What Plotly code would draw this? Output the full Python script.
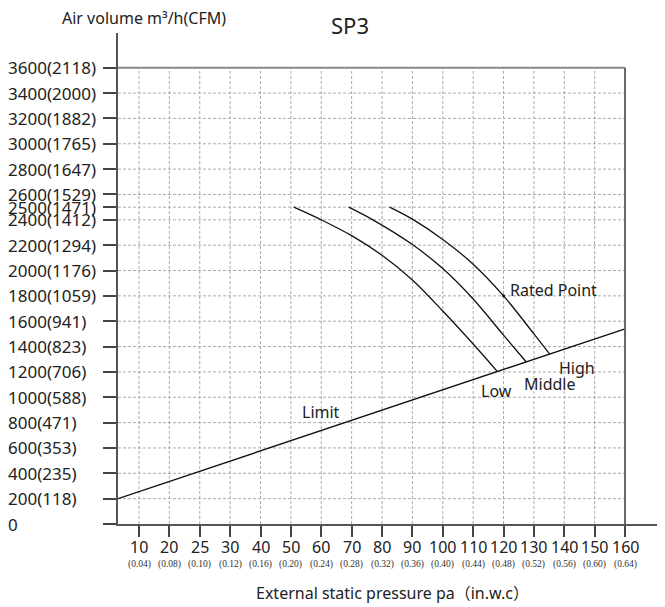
import numpy as np
import plotly.graph_objects as go

# ---- data ----
pressure_ticks = [10, 20, 25, 30, 40, 50, 60, 70, 80, 90, 100, 110, 120, 130, 140, 150, 160]
pressure_inwc = ["(0.04)", "(0.08)", "(0.10)", "(0.12)", "(0.16)", "(0.20)", "(0.24)", "(0.28)",
                 "(0.32)", "(0.36)", "(0.40)", "(0.44)", "(0.48)", "(0.52)", "(0.56)", "(0.60)", "(0.64)"]
airflow_ticks = [0, 200, 400, 600, 800, 1000, 1200, 1400, 1600, 1800, 2000, 2200, 2400, 2500,
                 2600, 2800, 3000, 3200, 3400, 3600]
airflow_labels = ["0", "200(118)", "400(235)", "600(353)", "800(471)", "1000(588)", "1200(706)",
                  "1400(823)", "1600(941)", "1800(1059)", "2000(1176)", "2200(1294)", "2400(1412)",
                  "2500(1471)", "2600(1529)", "2800(1647)", "3000(1765)", "3200(1882)",
                  "3400(2000)", "3600(2118)"]

low_pa = [51, 60, 70, 80, 90, 100, 110, 118]
low_q = [2500, 2400, 2275, 2120, 1925, 1680, 1420, 1202]
mid_pa = [69, 77, 90, 100, 110, 120, 127.5]
mid_q = [2500, 2400, 2205, 2015, 1775, 1490, 1278]
high_pa = [82.5, 90, 100, 110, 120, 130, 135.2]
high_q = [2500, 2405, 2245, 2050, 1800, 1500, 1340]
limit_pa = [3.1, 160]
limit_q = [200, 1540]
rated_pa = [120]
rated_q = [1800]

# ---- axis mapping: ticks are equally spaced on the original chart ----
tick_pos = list(range(1, len(pressure_ticks) + 1))


def to_axis(v):
    v = np.asarray(v, dtype=float)
    out = np.interp(v, pressure_ticks, tick_pos)
    return np.where(v < pressure_ticks[0], v / 10.0, out)


FONT = "Noto Sans, Open Sans, Noto Sans CJK SC, sans-serif"
X0, X1 = 0.3086, 18.25
Y0, Y1 = 0, 3874
GRID = "#ababab"

fig = go.Figure()

curve_style = dict(color="#111111", width=1.3)
for pa, q in [(low_pa, low_q), (mid_pa, mid_q), (high_pa, high_q)]:
    fig.add_trace(go.Scatter(x=to_axis(pa), y=q, mode="lines",
                             line=dict(shape="spline", smoothing=1.0, **curve_style),
                             hoverinfo="skip", showlegend=False))
fig.add_trace(go.Scatter(x=to_axis(limit_pa), y=limit_q, mode="lines",
                         line=dict(color="#111111", width=1.4), showlegend=False))
fig.add_trace(go.Scatter(x=to_axis(rated_pa), y=rated_q, mode="markers",
                         marker=dict(color="#111111", size=3), showlegend=False))

shapes = []
xmax = float(to_axis([pressure_ticks[-1]])[0])
# horizontal grid lines
for yv in airflow_ticks[1:-1]:
    shapes.append(dict(type="line", xref="x", yref="y", x0=X0, x1=xmax, y0=yv, y1=yv,
                       line=dict(color=GRID, width=1, dash="3px,2px"), layer="below"))
# vertical grid lines
for xp in tick_pos[:-1]:
    shapes.append(dict(type="line", xref="x", yref="y", x0=xp, x1=xp, y0=0, y1=airflow_ticks[-1],
                       line=dict(color=GRID, width=1, dash="3px,2px"), layer="below"))
# top and right border
shapes.append(dict(type="line", xref="x", yref="y", x0=X0, x1=xmax, y0=airflow_ticks[-1],
                   y1=airflow_ticks[-1], line=dict(color="#888888", width=2)))
shapes.append(dict(type="line", xref="x", yref="y", x0=xmax, x1=xmax, y0=0,
                   y1=airflow_ticks[-1], line=dict(color="#666666", width=2)))

annotations = []
plot_w = 545
plot_h = 491
# y tick labels, left aligned
for yv, lab in zip(airflow_ticks, airflow_labels):
    annotations.append(dict(x=(6 - 118) / plot_w, xref="paper", y=yv, yref="y", text=lab,
                            showarrow=False, xanchor="left", yanchor="middle",
                            font=dict(family=FONT, size=17, color="#222222")))
# x tick labels
for xp, lab, sub in zip(tick_pos, pressure_ticks, pressure_inwc):
    annotations.append(dict(x=xp, xref="x", y=(524 - 547) / plot_h, yref="paper", text=str(lab),
                            showarrow=False, xanchor="center", yanchor="middle",
                            font=dict(family=FONT, size=16, color="#222222")))
    annotations.append(dict(x=xp, xref="x", y=(524 - 564) / plot_h, yref="paper", text=sub,
                            showarrow=False, xanchor="center", yanchor="middle",
                            font=dict(family="Liberation Serif, serif", size=9.5, color="#333333")))

# titles
annotations.append(dict(x=(144 - 118) / plot_w, xref="paper", y=(524 - 18) / plot_h, yref="paper",
                        text="Air volume m³/h(CFM)", showarrow=False, xanchor="center",
                        yanchor="middle", font=dict(family=FONT, size=16, color="#222222")))
annotations.append(dict(x=(350 - 118) / plot_w, xref="paper", y=(524 - 25) / plot_h, yref="paper",
                        text="SP3", showarrow=False, xanchor="center", yanchor="middle",
                        borderpad=0, font=dict(family=FONT, size=22, color="#222222")))
annotations.append(dict(x=(392 - 118) / plot_w, xref="paper", y=(524 - 593) / plot_h, yref="paper",
                        text="External static pressure pa（in.w.c）", showarrow=False,
                        xanchor="center", yanchor="middle",
                        font=dict(family=FONT, size=16, color="#222222")))

# curve labels
for text, pa, q, anchor in [("Limit", 59.8, 885, "center"), ("Low", 117.7, 1052, "center"),
                            ("Middle", 135.2, 1107, "center"), ("High", 144.1, 1233, "center"),
                            ("Rated Point", 121.4, 1848, "left")]:
    annotations.append(dict(x=float(to_axis([pa])[0]), xref="x", y=q, yref="y", text=text,
                            showarrow=False, xanchor=anchor, yanchor="middle",
                            font=dict(family=FONT, size=16, color="#222222")))

# page body has an 8px margin, so the figure is shrunk by 8px and the margins shifted
fig.update_layout(
    width=657, height=599,
    margin=dict(l=110, r=2, t=25, b=83),
    paper_bgcolor="white", plot_bgcolor="white",
    showlegend=False,
    shapes=shapes, annotations=annotations,
    xaxis=dict(range=[X0, X1], tickvals=tick_pos, showticklabels=False, ticks="outside",
               ticklen=11, tickwidth=1.5, tickcolor="#444444", showgrid=False, zeroline=False,
               showline=True, linecolor="#555555", linewidth=1.5, fixedrange=True),
    yaxis=dict(range=[Y0, Y1], tickvals=airflow_ticks, showticklabels=False, ticks="outside",
               ticklen=13, tickwidth=2, tickcolor="#444444", showgrid=False, zeroline=False,
               showline=True, linecolor="#555555", linewidth=2, fixedrange=True),
)

fig.write_html("out.html")
